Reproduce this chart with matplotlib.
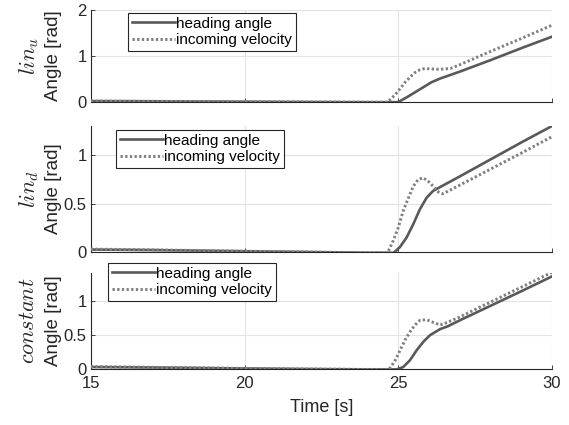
import numpy as np
import matplotlib.pyplot as plt

plt.rcParams["font.family"] = ["Liberation Sans", "DejaVu Sans"]
plt.rcParams["mathtext.fontset"] = "cm"

# lin_u
t_head_u = [15, 17, 20, 22, 24, 24.9, 25.0, 25.27, 25.54, 25.81, 26.08, 26.36, 27, 28, 29, 30]
y_head_u = [0.02, 0.015, 0.006, 0.0, -0.004, -0.004, 0.0, 0.1, 0.21, 0.32, 0.43, 0.51, 0.66, 0.91, 1.17, 1.42]
t_inc_u = [15, 17, 20, 22, 24, 24.65, 24.9, 25.06, 25.22, 25.38, 25.54, 25.7, 25.87, 26.03, 26.36, 26.7, 27, 28, 29, 30]
y_inc_u = [0.02, 0.015, 0.006, 0.0, -0.004, -0.004, 0.16, 0.29, 0.43, 0.54, 0.64, 0.70, 0.73, 0.72, 0.71, 0.73, 0.81, 1.1, 1.38, 1.67]

# lin_d
t_head_d = [15, 17, 20, 22, 24, 24.85, 25.05, 25.27, 25.49, 25.7, 25.92, 26.13, 26.36, 27, 28, 29, 30]
y_head_d = [0.025, 0.02, 0.008, 0.0, -0.008, -0.008, 0.05, 0.15, 0.29, 0.44, 0.56, 0.63, 0.67, 0.78, 0.955, 1.13, 1.3]
t_inc_d = [15, 17, 20, 22, 24, 24.65, 24.84, 25.0, 25.16, 25.33, 25.49, 25.65, 25.81, 25.97, 26.13, 26.3, 26.45, 27, 28, 29, 30]
y_inc_d = [0.03, 0.022, 0.008, 0.0, -0.008, -0.008, 0.12, 0.255, 0.425, 0.56, 0.68, 0.75, 0.765, 0.73, 0.68, 0.62, 0.6, 0.69, 0.855, 1.02, 1.19]

# constant
t_head_c = [15, 17, 20, 22, 24, 24.95, 25.16, 25.38, 25.6, 25.81, 26.03, 26.36, 26.6, 27, 28, 29, 30]
y_head_c = [0.03, 0.022, 0.008, 0.0, -0.006, -0.006, 0.03, 0.13, 0.28, 0.4, 0.5, 0.59, 0.63, 0.72, 0.935, 1.15, 1.37]
t_inc_c = [15, 17, 20, 22, 24, 24.7, 24.9, 25.06, 25.22, 25.38, 25.54, 25.7, 25.92, 26.13, 26.36, 26.6, 27, 28, 29, 30]
y_inc_c = [0.035, 0.025, 0.008, 0.0, -0.006, -0.006, 0.13, 0.28, 0.43, 0.55, 0.65, 0.72, 0.73, 0.69, 0.65, 0.69, 0.77, 0.99, 1.21, 1.43]

row_names = [r"$lin_u$", r"$lin_d$", r"$constant$"]
y_limits = [(0, 2), (0, 1.3), (0, 1.42)]
y_ticks = [[0, 1, 2], [0, 0.5, 1], [0, 0.5, 1]]
y_ticklabels = [["0", "1", "2"], ["0", "0.5", "1"], ["0", "0.5", "1"]]
x_ticks = [15, 20, 25, 30]

series = [
    (t_head_u, y_head_u, t_inc_u, y_inc_u),
    (t_head_d, y_head_d, t_inc_d, y_inc_d),
    (t_head_c, y_head_c, t_inc_c, y_inc_c),
]

W, H = 569, 425
fig = plt.figure(figsize=(W / 100, H / 100), dpi=100)

# panel boxes in pixels: (top, bottom)
panels = [(10, 102), (126, 252), (273, 369)]
legend_pos = [(128, 13), (116, 130), (108, 263)]
left_px, right_px = 91, 552

for i, (top, bot) in enumerate(panels):
    ax = fig.add_axes([left_px / W, 1 - bot / H, (right_px - left_px) / W, (bot - top) / H])
    th, yh, ti, yi = series[i]
    ax.plot(th, yh, color="#595959", lw=1.9, label="heading angle", zorder=3)
    ax.plot(ti, yi, color="#808080", lw=2.1, ls=(0, (0.8, 0.8)), label="incoming velocity", zorder=3)
    ax.set_xlim(15, 30)
    ax.set_ylim(*y_limits[i])
    ax.set_yticks(y_ticks[i])
    ax.set_yticklabels(y_ticklabels[i])
    ax.set_xticks(x_ticks)
    if i < 2:
        ax.set_xticklabels([])
    ax.grid(True, color="#e3e3e3", lw=0.8)
    ax.set_axisbelow(True)
    for s in ["top", "right"]:
        ax.spines[s].set_visible(False)
    for s in ["left", "bottom"]:
        ax.spines[s].set_color("#262626")
        ax.spines[s].set_linewidth(0.8)
    ax.tick_params(direction="in", length=3, width=0.6, color="#262626",
                   labelsize=12, labelcolor="#262626")
    ax.tick_params(axis="y", pad=3)
    ax.tick_params(axis="x", pad=5)
    lx, ly = legend_pos[i]
    leg = ax.legend(loc="upper left", bbox_to_anchor=(lx / W, 1 - ly / H),
                    bbox_transform=fig.transFigure, borderaxespad=0,
                    fontsize=11, handlelength=2.8, handletextpad=0.1,
                    borderpad=0.25, labelspacing=0.15, fancybox=False,
                    framealpha=1, edgecolor="#262626")
    leg.get_frame().set_linewidth(0.8)
    yc = 1 - (top + bot) / 2 / H
    fig.text(54 / W, yc, "Angle [rad]", rotation=90, ha="center", va="center",
             fontsize=13.5, color="#262626")
    fig.text(29 / W, yc, row_names[i], rotation=90, ha="center", va="center",
             fontsize=16, color="#262626")

fig.text((left_px + right_px) / 2 / W, 1 - 408 / H, "Time [s]", ha="center",
         va="center", fontsize=13, color="#262626")

fig.savefig("out.png", dpi=100)
